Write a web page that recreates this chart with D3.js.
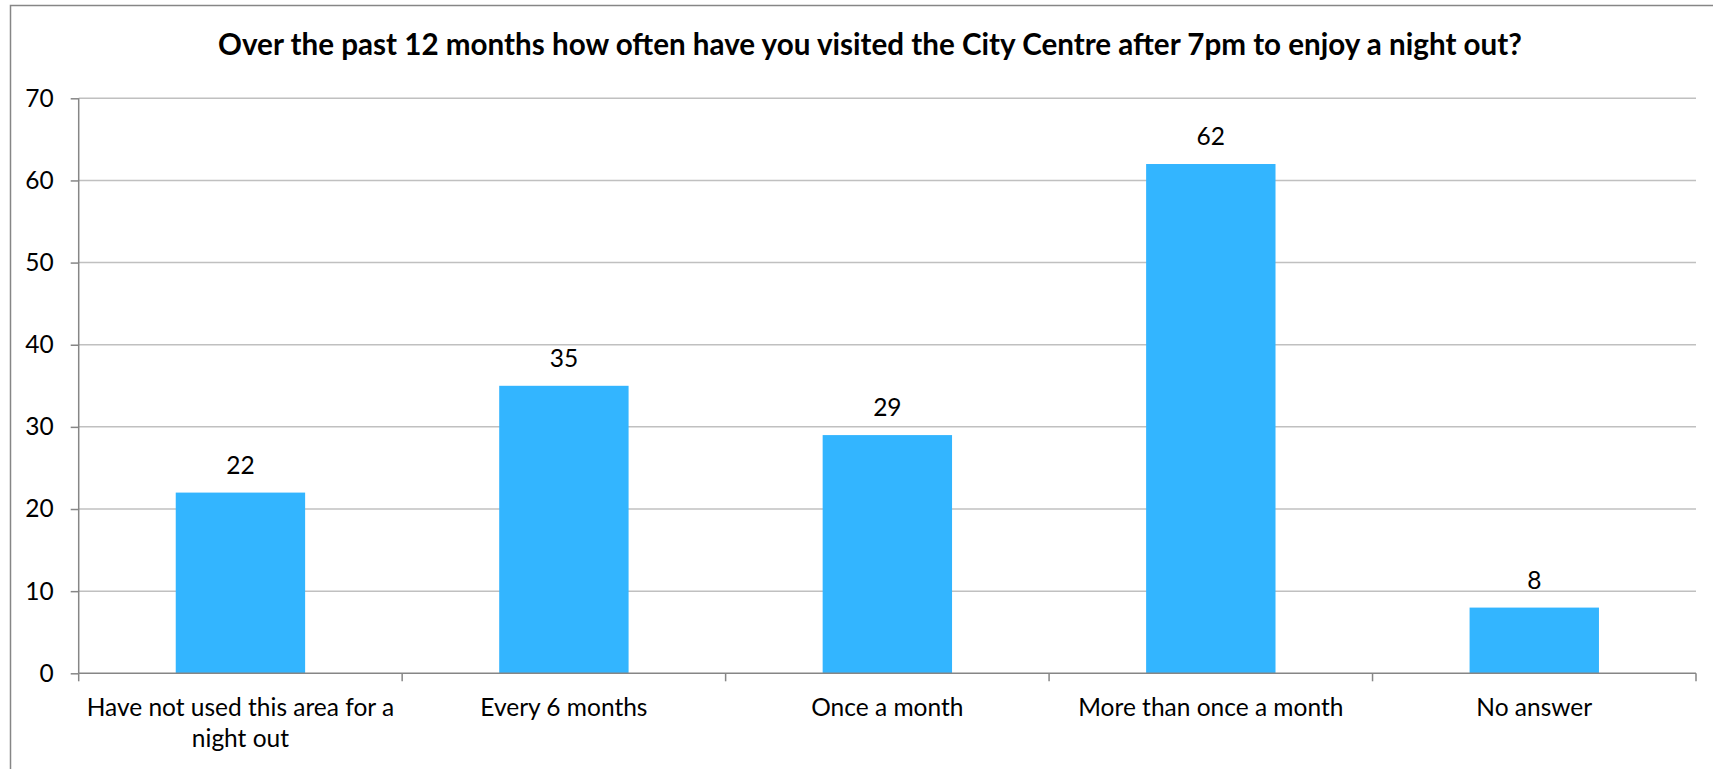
<!DOCTYPE html>
<html>
<head>
<meta charset="utf-8">
<script src="https://cdn.jsdelivr.net/npm/d3@7"></script>
<style>
  html, body { margin: 0; padding: 0; background: #fff; }
  svg { display: block; }
  text { font-family: Lato, "Open Sans", sans-serif; fill: #000; }
</style>
</head>
<body>
<svg id="chart" width="1713" height="769"></svg>
<script>
const title = "Over the past 12 months how often have you visited the City Centre after 7pm to enjoy a night out?";
const categories = ["Have not used this area for a night out", "Every 6 months", "Once a month", "More than once a month", "No answer"];
const values = [22, 35, 29, 62, 8];
const yTicks = [0, 10, 20, 30, 40, 50, 60, 70];

const W = 1713, H = 769;
const plot = { left: 78.7, right: 1696, top: 98.3, bottom: 673.3 };
const labelSize = "24.5px";
const svg = d3.select("#chart");

// outer frame (extends beyond the visible area on right/bottom)
svg.append("rect")
  .attr("x", 10.5).attr("y", 5.5)
  .attr("width", W + 20).attr("height", H + 20)
  .attr("fill", "#fff").attr("stroke", "#868686").attr("stroke-width", 1.5);

const x = d3.scaleBand().domain(categories).range([plot.left, plot.right]).padding(0);
const y = d3.scaleLinear().domain([0, 70]).range([plot.bottom, plot.top]);

// gridlines
svg.append("g").selectAll("line")
  .data(yTicks.filter(d => d > 0))
  .join("line")
  .attr("x1", plot.left).attr("x2", plot.right)
  .attr("y1", d => y(d)).attr("y2", d => y(d))
  .attr("stroke", "#c0c0c0").attr("stroke-width", 1.5);

// y axis
const yAxis = svg.append("g").attr("transform", `translate(${plot.left},0)`)
  .call(d3.axisLeft(y).tickValues(yTicks).tickSize(8).tickPadding(17));
yAxis.selectAll("path, line").attr("stroke", "#868686").attr("stroke-width", 1.5);
yAxis.select(".domain").attr("d", `M0,${plot.top}V${plot.bottom}`);
yAxis.selectAll("text").style("font-family", "Lato, 'Open Sans', sans-serif")
  .style("font-size", labelSize).attr("fill", "#000");

// bars
const barW = x.bandwidth() * 0.4;
svg.append("g").selectAll("rect")
  .data(values)
  .join("rect")
  .attr("x", (d, i) => x(categories[i]) + (x.bandwidth() - barW) / 2)
  .attr("y", d => y(d))
  .attr("width", barW)
  .attr("height", d => y(0) - y(d))
  .attr("fill", "#33b5ff");

// x axis
const xg = svg.append("g");
xg.append("line")
  .attr("x1", plot.left).attr("x2", plot.right)
  .attr("y1", plot.bottom).attr("y2", plot.bottom)
  .attr("stroke", "#868686").attr("stroke-width", 1.5);
const bounds = categories.map(c => x(c)).concat([plot.right]);
xg.selectAll("line.tick").data(bounds).join("line")
  .attr("class", "tick")
  .attr("x1", d => d).attr("x2", d => d)
  .attr("y1", plot.bottom).attr("y2", plot.bottom + 8)
  .attr("stroke", "#868686").attr("stroke-width", 1.5);

// data labels
svg.append("g").selectAll("text")
  .data(values)
  .join("text")
  .attr("x", (d, i) => x(categories[i]) + x.bandwidth() / 2)
  .attr("y", d => y(d) - 19)
  .attr("text-anchor", "middle")
  .style("font-size", labelSize)
  .text(d => d);

// category labels with wrapping
const labelG = svg.append("g");
const maxW = x.bandwidth() - 4;
categories.forEach(c => {
  const cx = x(c) + x.bandwidth() / 2;
  const t = labelG.append("text")
    .attr("x", cx)
    .attr("y", plot.bottom + 43)
    .attr("text-anchor", "middle")
    .style("font-size", labelSize);
  const words = c.split(" ");
  let line = [];
  let ts = t.append("tspan").attr("x", cx).attr("dy", 0);
  words.forEach(w => {
    line.push(w);
    ts.text(line.join(" "));
    if (ts.node().getComputedTextLength() > maxW && line.length > 1) {
      line.pop();
      ts.text(line.join(" "));
      line = [w];
      ts = t.append("tspan").attr("x", cx).attr("dy", 31).text(w);
    }
  });
});

// title
svg.append("text")
  .attr("x", 870).attr("y", 55)
  .attr("text-anchor", "middle")
  .style("font-size", "29.6px").style("font-weight", "bold")
  .text(title);
</script>
</body>
</html>
